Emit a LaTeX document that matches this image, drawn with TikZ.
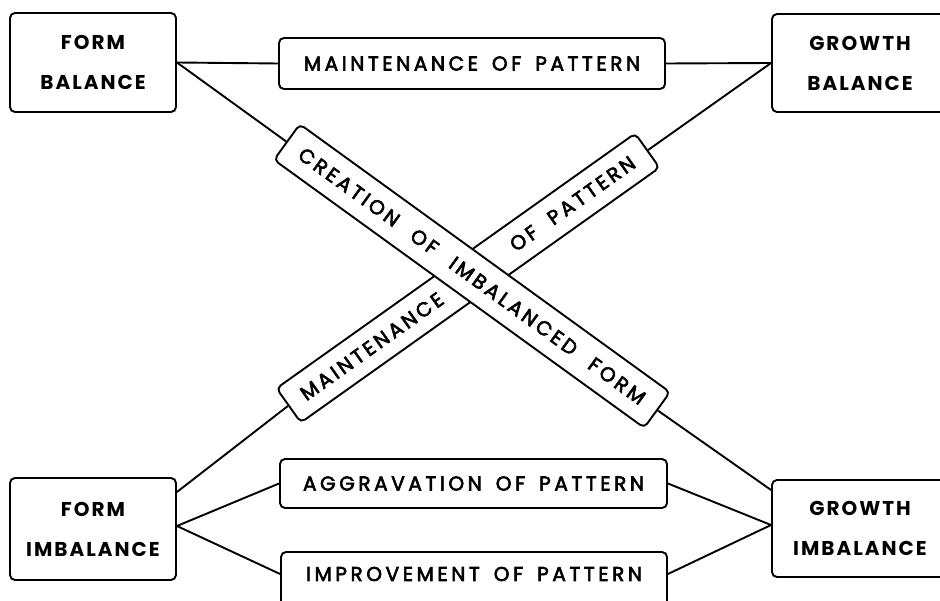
\documentclass[tikz,border=0pt]{standalone}
\usepackage{fontspec}
\setmainfont{Poppins}
\newfontfamily\labfont[LetterSpace=18,FakeBold=3]{Poppins}
\newfontfamily\diagfont[LetterSpace=16,FakeBold=3]{Poppins}
\newfontfamily\boxfont[LetterSpace=10]{Poppins}
\usetikzlibrary{calc}
\begin{document}
\begin{tikzpicture}[x=1pt,y=-1pt,
  big/.style={draw, line width=1.9pt, rounded corners=5pt, align=center,
    font=\boxfont\bfseries\fontsize{20}{40}\selectfont, inner sep=0pt},
  lab/.style={draw, line width=1.9pt, rounded corners=5pt, fill=white, inner sep=0pt,
    font=\labfont\fontsize{20}{20}\selectfont},
  dlab/.style={lab, font=\diagfont\fontsize{20}{20}\selectfont},
  txt/.style={inner sep=0pt, font=\labfont\fontsize{20}{20}\selectfont},
  dtxt/.style={inner sep=0pt, font=\diagfont\fontsize{20}{20}\selectfont},
  con/.style={line width=1.9pt}]
\clip (0,0) rectangle (940,601);
\useasboundingbox (0,0) rectangle (940,601);
% main boxes
\node[big, minimum width=166pt, minimum height=99pt] (fb) at (93,62.5) {FORM\\BALANCE};
\node[big, minimum width=176pt, minimum height=98pt] (gb) at (860,63) {GROWTH\\BALANCE};
\node[big, minimum width=166pt, minimum height=102pt] (fi) at (93,529) {FORM\\IMBALANCE};
\node[big, minimum width=176pt, minimum height=97pt] (gi) at (860,528.5) {GROWTH\\IMBALANCE};
% horizontal label boxes
\node[lab, minimum width=386pt, minimum height=51pt] (mop) at (472,63.5)
  {MAINTENANCE\hspace{14pt}OF\hspace{14pt}PATTERN};
\node[lab, minimum width=387pt, minimum height=49pt] (aop) at (473.5,483.5)
  {AGGRAVATION\hspace{14pt}OF\hspace{14pt}PATTERN};
\node[lab, minimum width=386pt, minimum height=56pt] (iop) at (474,580) {};
\node[txt] (iopt) at (474,574) {IMPROVEMENT\hspace{14pt}OF\hspace{14pt}PATTERN};
% diagonal boxes
\node[dlab, minimum width=440pt, minimum height=42pt, rotate=35.4] (md) at (468,278) {};
\node[dtxt, rotate=35.4] (mdt1) at ($(md.west)!0.233!(md.east)$) {MAINTENANCE};
\node[dtxt, rotate=35.4] (mdt2) at ($(md.west)!0.79!(md.east)$) {OF\hspace{17pt}PATTERN};
\node[dlab, minimum width=457pt, minimum height=44pt, rotate=-35.9] (cr) at (472,276)
  {CREATION\hspace{19pt}OF\hspace{19pt}IMBALANCED\hspace{19pt}FORM};
% connectors
\draw[con] (fb.east) -- (mop.west);
\draw[con] (mop.east) -- (gb.west);
\draw[con] (fb.east) -- (cr.west);
\draw[con] (gb.west) -- (md.east);
\draw[con] ([yshift=37pt]fi.east) -- (md.west);
\draw[con] ([yshift=3pt]fi.east) -- (aop.west);
\draw[con] ([yshift=3pt]fi.east) -- ([yshift=6pt]iop.west);
\draw[con] (aop.east) -- ([yshift=3.5pt]gi.west);
\draw[con] ([yshift=6pt]iop.east) -- ([yshift=3.5pt]gi.west);
\draw[con] (cr.east) -- ([yshift=38.5pt]gi.west);
\end{tikzpicture}
\end{document}
